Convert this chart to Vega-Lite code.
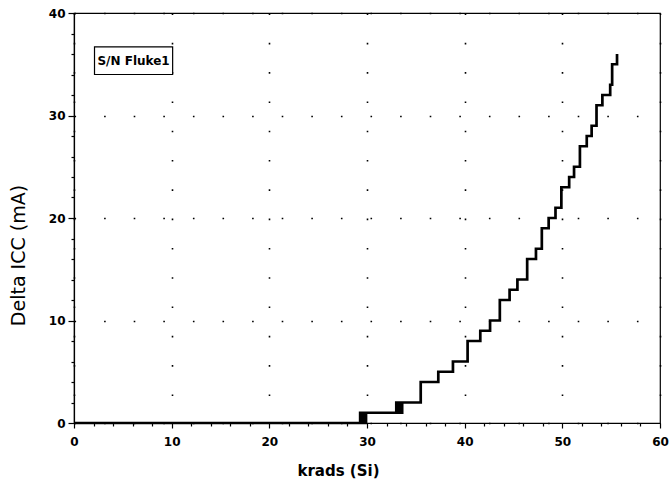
{
  "$schema": "https://vega.github.io/schema/vega-lite/v6.json",
  "width": 586,
  "height": 410,
  "autosize": {"type": "none"},
  "padding": {"left": 74, "top": 13, "right": 11, "bottom": 66},
  "background": "white",
  "config": {
    "view": {"stroke": "black", "strokeWidth": 1.2},
    "font": "DejaVu Sans"
  },
  "datasets": {
    "curve": [
      {"krads": 0, "delta": 0},
      {"krads": 29.3, "delta": 1},
      {"krads": 29.5, "delta": 0},
      {"krads": 29.6, "delta": 1},
      {"krads": 29.8, "delta": 0},
      {"krads": 29.9, "delta": 1},
      {"krads": 33.0, "delta": 2},
      {"krads": 33.2, "delta": 1},
      {"krads": 33.3, "delta": 2},
      {"krads": 33.5, "delta": 1},
      {"krads": 33.6, "delta": 2},
      {"krads": 35.5, "delta": 4},
      {"krads": 37.3, "delta": 5},
      {"krads": 38.8, "delta": 6},
      {"krads": 40.3, "delta": 8},
      {"krads": 41.6, "delta": 9},
      {"krads": 42.6, "delta": 10},
      {"krads": 43.6, "delta": 12},
      {"krads": 44.6, "delta": 13},
      {"krads": 45.4, "delta": 14},
      {"krads": 46.4, "delta": 16},
      {"krads": 47.3, "delta": 17},
      {"krads": 47.9, "delta": 19},
      {"krads": 48.6, "delta": 20},
      {"krads": 49.3, "delta": 21},
      {"krads": 49.9, "delta": 23},
      {"krads": 50.7, "delta": 24},
      {"krads": 51.2, "delta": 25},
      {"krads": 51.8, "delta": 27},
      {"krads": 52.5, "delta": 28},
      {"krads": 53.0, "delta": 29},
      {"krads": 53.5, "delta": 31},
      {"krads": 54.1, "delta": 32},
      {"krads": 54.9, "delta": 33},
      {"krads": 55.1, "delta": 35},
      {"krads": 55.6, "delta": 36}
    ],
    "label": [
      {"x1": 2.1, "x2": 10.1, "y1": 34.0, "y2": 36.7, "xc": 6.1, "yc": 35.35, "text": "S/N Fluke1"}
    ]
  },
  "resolve": {"axis": {"x": "independent", "y": "independent"}},
  "layer": [
    {
      "data": {"name": "curve"},
      "mark": {"type": "line", "interpolate": "step-after", "color": "black", "strokeWidth": 2.7},
      "encoding": {
        "x": {
          "field": "krads", "type": "quantitative",
          "scale": {"domain": [0, 60], "nice": false, "zero": false},
          "axis": {
            "orient": "bottom",
            "values": [0, 10, 20, 30, 40, 50, 60],
            "title": "krads (Si)",
            "titleFont": "DejaVu Sans", "titleFontSize": 15, "titleFontWeight": "bold", "titleColor": "black",
            "titleX": 264, "titleY": 47, "titleBaseline": "middle",
            "labelFont": "DejaVu Sans", "labelFontSize": 12, "labelFontWeight": "bold", "labelColor": "black",
            "labelPadding": 8, "labelFlush": false,
            "tickSize": 5, "tickColor": "black", "tickWidth": 1.2,
            "domainColor": "black", "domainWidth": 1.2,
            "grid": true, "gridColor": "black", "gridOpacity": 1, "gridWidth": 1.6, "gridDash": [1.6, 27.7]
          }
        },
        "y": {
          "field": "delta", "type": "quantitative",
          "scale": {"domain": [0, 40], "nice": false, "zero": false},
          "axis": {
            "orient": "left",
            "values": [0, 10, 20, 30, 40],
            "title": "Delta ICC (mA)",
            "titleFont": "DejaVu Sans", "titleFontSize": 19, "titleFontWeight": "normal", "titleColor": "black",
            "titleX": -56, "titleY": 242, "titleBaseline": "middle", "titleAngle": -90,
            "labelFont": "DejaVu Sans", "labelFontSize": 12, "labelFontWeight": "bold", "labelColor": "black",
            "labelPadding": 3, "labelFlush": false,
            "tickSize": 6, "tickColor": "black", "tickWidth": 1.2,
            "domainColor": "black", "domainWidth": 1.2,
            "grid": true, "gridColor": "black", "gridOpacity": 1, "gridWidth": 1.6, "gridDash": [1.6, 28]
          }
        }
      }
    },
    {
      "data": {"name": "curve"},
      "mark": {"type": "point", "opacity": 0},
      "encoding": {
        "x": {
          "field": "krads", "type": "quantitative",
          "axis": {
            "orient": "bottom",
            "values": [2, 4, 6, 8, 12, 14, 16, 18, 22, 24, 26, 28, 32, 34, 36, 38, 42, 44, 46, 48, 52, 54, 56, 58],
            "labels": false, "title": null, "grid": false, "domain": false,
            "tickSize": 3, "tickColor": "black", "tickWidth": 1.2
          }
        },
        "y": {
          "field": "delta", "type": "quantitative",
          "axis": {
            "orient": "left",
            "values": [2, 4, 6, 8, 12, 14, 16, 18, 22, 24, 26, 28, 32, 34, 36, 38],
            "labels": false, "title": null, "grid": false, "domain": false,
            "tickSize": 3, "tickColor": "black", "tickWidth": 1.2
          }
        }
      }
    },
    {
      "data": {"name": "label"},
      "mark": {"type": "rect", "fill": "white", "stroke": "black", "strokeWidth": 1.2},
      "encoding": {
        "x": {"field": "x1", "type": "quantitative", "axis": null},
        "x2": {"field": "x2"},
        "y": {"field": "y1", "type": "quantitative", "axis": null},
        "y2": {"field": "y2"}
      }
    },
    {
      "data": {"name": "label"},
      "mark": {"type": "text", "font": "DejaVu Sans", "fontSize": 12, "fontWeight": "bold", "color": "black", "align": "center", "baseline": "middle"},
      "encoding": {
        "x": {"field": "xc", "type": "quantitative", "axis": null},
        "y": {"field": "yc", "type": "quantitative", "axis": null},
        "text": {"field": "text"}
      }
    }
  ]
}
